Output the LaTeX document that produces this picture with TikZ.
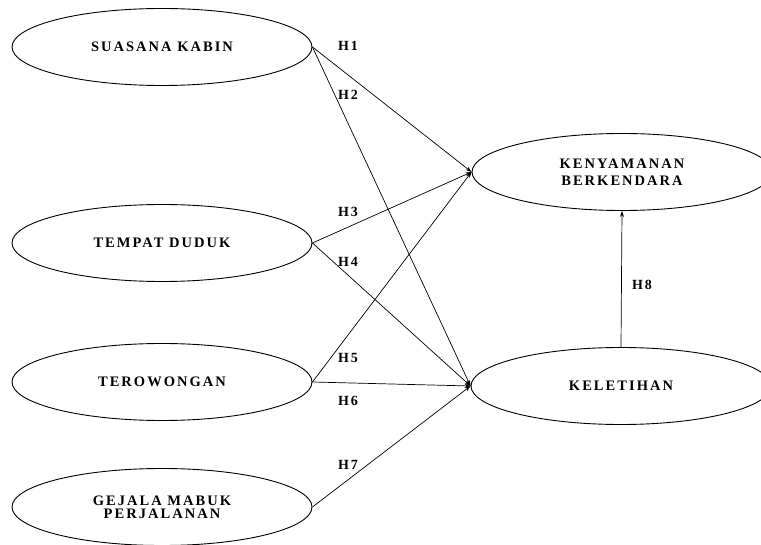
\documentclass[tikz,border=0pt]{standalone}
\usepackage{fontspec}
\setmainfont{Liberation Serif}
\newfontfamily\varfont[LetterSpace=14]{Liberation Serif}
\usetikzlibrary{shapes.geometric,arrows.meta}
\tikzset{
  var/.style={draw,ellipse,line width=0.9pt,minimum width=300pt,minimum height=77pt,
    inner sep=0pt,align=center,font=\varfont\bfseries\fontsize{14.5}{17}\selectfont},
  hyp/.style={line width=0.7pt,-{Stealth[length=6pt,width=4pt]}},
  hlab/.style={font=\varfont\bfseries\fontsize{14}{15}\selectfont,inner sep=1pt}
}
\begin{document}
\begin{tikzpicture}[x=1pt,y=-1pt]
        \useasboundingbox[fill=white] (0,0) rectangle (761,545);
        \node[var] (kabin) at (162,47) {SUASANA KABIN};
        \node[var] (duduk) at (162,243) {TEMPAT DUDUK};
        \node[var] (terowongan) at (162,382) {TEROWONGAN};
        \node[var] (mabuk) at (162,507) {GEJALA MABUK\\[-4pt]PERJALANAN};
        \node[var] (nyaman) at (622,172) {KENYAMANAN\\BERKENDARA};
        \node[var] (letih) at (621,386) {KELETIHAN};
        \draw[hyp] (kabin.east) -- (nyaman.west);
        \draw[hyp] (kabin.east) -- (letih.west);
        \draw[hyp] (duduk.east) -- (nyaman.west);
        \draw[hyp] (duduk.east) -- (letih.west);
        \draw[hyp] (terowongan.east) -- (nyaman.west);
        \draw[hyp] (terowongan.east) -- (letih.west);
        \draw[hyp] (mabuk.east) -- (letih.west);
        \draw[hyp] (letih.north) -- (nyaman.south);
        \node[hlab] (h1) at (348,46) {H1};
        \node[hlab] (h2) at (348,95) {H2};
        \node[hlab] (h3) at (348,212) {H3};
        \node[hlab] (h4) at (348,262) {H4};
        \node[hlab] (h5) at (348,358) {H5};
        \node[hlab] (h6) at (348,401) {H6};
        \node[hlab] (h7) at (348,465) {H7};
        \node[hlab] (h8) at (642,285) {H8};
    \end{tikzpicture}
\end{document}
